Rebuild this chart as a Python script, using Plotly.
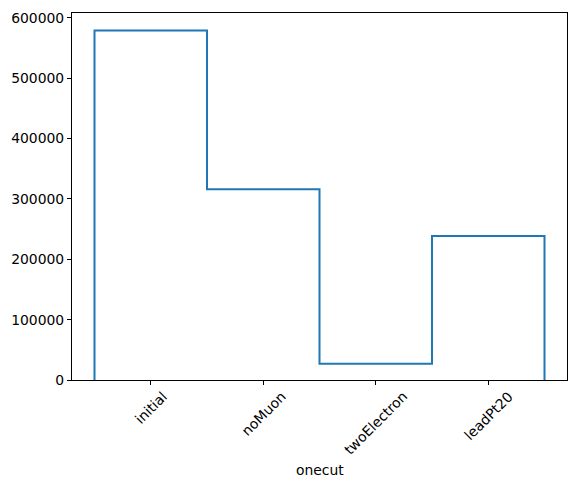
import numpy as np
import plotly.graph_objects as go

cuts = ["initial", "noMuon", "twoElectron", "leadPt20"]
counts = [579000, 316000, 27000, 238500]
y_ticks = [0, 100000, 200000, 300000, 400000, 500000, 600000]

FONT = "DejaVu Sans"
BLUE = "#1f77b4"

# step outline like matplotlib histtype="step"
edges = np.arange(len(cuts) + 1) - 0.5
x_step = [edges[0]] + list(edges) + [edges[-1]]
y_step = [0] + counts + [counts[-1], 0]

fig = go.Figure(go.Scatter(
    x=x_step, y=y_step, mode="lines", line=dict(color=BLUE, width=2, shape="hv"),
    hoverinfo="skip", showlegend=False
))

axis_common = dict(
    showgrid=False, zeroline=False, showline=True, linecolor="black", linewidth=1.1,
    mirror=True, ticks="outside", ticklen=4, tickwidth=1.1, tickcolor="black",
    tickfont=dict(family=FONT, size=13.9, color="black")
)
fig.update_xaxes(range=[-0.7, 3.7], tickvals=list(range(len(cuts))), ticktext=[""] * len(cuts), **axis_common)
fig.update_yaxes(range=[0, max(counts) * 1.05], tickvals=y_ticks, tickformat="d",
                 ticklabeloverflow="allow", **axis_common)

# rotated category labels centred under their ticks, as matplotlib draws them
for i, name in enumerate(cuts):
    fig.add_annotation(x=i, y=0, xref="x", yref="paper", text=name, textangle=-45,
                       showarrow=False, xanchor="center", yanchor="top", yshift=-6,
                       font=dict(family=FONT, size=13.9, color="black"))
fig.add_annotation(x=0.5, y=0, xref="paper", yref="paper", text="onecut", showarrow=False,
                   xanchor="center", yanchor="middle", yshift=-90,
                   font=dict(family=FONT, size=13.9, color="black"))

# page body adds an 8px margin, so the figure is sized to sit inside the window
fig.update_layout(
    width=562, height=471, template="plotly_white",
    paper_bgcolor="white", plot_bgcolor="white",
    margin=dict(l=64, r=2, t=3, b=99)
)
fig.write_html("out.html")
